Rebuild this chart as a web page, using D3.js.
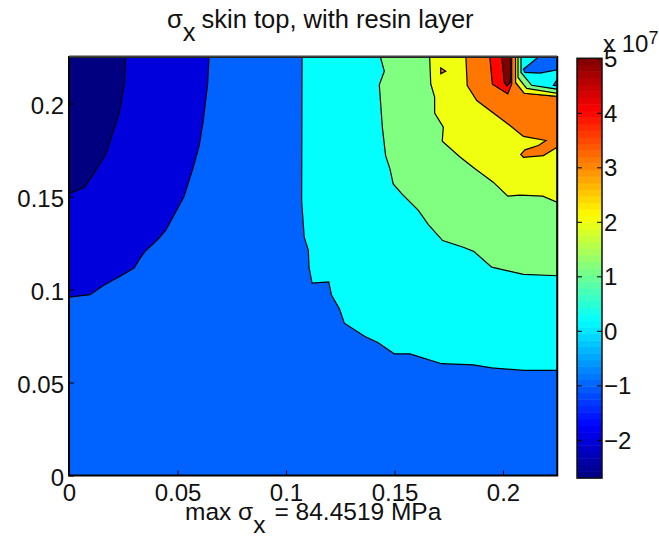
<!DOCTYPE html>
<html>
<head>
<meta charset="utf-8">
<script src="https://d3js.org/d3.v7.min.js"></script>
<style>
  body { margin: 0; background: #fff; }
  text { font-family: "Liberation Sans", Arial, sans-serif; fill: #111; }
</style>
</head>
<body>
<div id="chart"></div>
<script>
// =========================
// DATA (x, y in metres, levels in 1e7 Pa)
// =========================
const xTicks = [0, 0.05, 0.1, 0.15, 0.2];
const yTicks = [0, 0.05, 0.1, 0.15, 0.2];
const cbarTicks = [-2, -1, 0, 1, 2, 3, 4, 5];
const xLabels = ["0", "0.05", "0.1", "0.15", "0.2"];
const yLabels = ["0", "0.05", "0.1", "0.15", "0.2"];
const cbarLabels = ["\u22122", "\u22121", "0", "1", "2", "3", "4", "5"];

const levelBase = -1;
const levelNavy = -2.7, levelBlue = -2, levelCyan = 0.2, levelGreen = 1.15;
const levelYellow = 2, levelOrange = 3.15, levelRed = 4, levelDark = 5;

const navyEdge = [[0.0261,0.225],[0.0255,0.2106],[0.0232,0.1953],[0.0207,0.1864],[0.0169,0.1726],
  [0.0112,0.1622],[0.0071,0.1550],[0,0.1515],[0,0.225]];
const blueEdge = [[0.0645,0.225],[0.0639,0.2108],[0.0619,0.1909],[0.0600,0.1774],[0.0573,0.1658],
  [0.0530,0.1500],[0.0447,0.1321],[0.0412,0.1273],[0.0350,0.1204],[0.0327,0.1167],[0.0300,0.1115],
  [0.0227,0.1066],[0.0158,0.1022],[0.0097,0.0972],[0,0.0959],[0,0.225]];
const cyanEdge = [[0.1074,0.225],[0.1072,0.1478],[0.1084,0.1281],[0.1103,0.1210],[0.1106,0.1120],
  [0.1120,0.1034],[0.1197,0.1041],[0.1209,0.0972],[0.1246,0.0896],[0.1269,0.0819],[0.1364,0.0747],
  [0.1423,0.0715],[0.1499,0.0654],[0.1571,0.0654],[0.1717,0.0601],[0.1863,0.0595],[0.1948,0.0579],
  [0.2094,0.0565],[0.225,0.0565],[0.225,0.225]];
const greenEdge = [[0.1435,0.225],[0.1453,0.2174],[0.1430,0.2100],[0.1444,0.1873],[0.1459,0.1720],
  [0.1479,0.1649],[0.1494,0.1568],[0.1533,0.1515],[0.1610,0.1425],[0.1656,0.1349],[0.1722,0.1263],
  [0.1817,0.1227],[0.1866,0.1204],[0.1948,0.1120],[0.2094,0.1081],[0.225,0.1074],[0.225,0.225]];
const yellowEdge = [[0.1662,0.225],[0.1667,0.2106],[0.1685,0.2034],[0.1685,0.1948],[0.1725,0.1873],
  [0.1720,0.1797],[0.1802,0.1712],[0.1871,0.1649],[0.1955,0.1577],[0.2022,0.1502],[0.2078,0.1507],
  [0.2183,0.1502],[0.225,0.1469],[0.225,0.225]];
const orangeEdge = [[0.1829,0.225],[0.1835,0.2097],[0.1879,0.2016],[0.2032,0.1882],[0.2094,0.1823],
  [0.2198,0.1801],[0.2163,0.1774],[0.2101,0.1751],[0.2082,0.1726],[0.2094,0.1711],[0.2186,0.1720],
  [0.225,0.1765],[0.225,0.2038],[0.2098,0.2055],[0.2058,0.2113],[0.2058,0.225]];
const orangeSpot = [[0.1713,0.2192],[0.1713,0.2160],[0.1736,0.2174]];
const redEdge = [[0.1939,0.225],[0.1951,0.2104],[0.2022,0.2052],[0.2040,0.2104],[0.2040,0.225]];
const darkEdge = [[0.1994,0.225],[0.2006,0.2113],[0.2018,0.2095],[0.2034,0.2113],[0.2037,0.225]];
const innerYellow = [[0.2058,0.225],[0.2058,0.2113],[0.2098,0.2055],[0.225,0.2038],[0.225,0.225]];
const innerGreen = [[0.2069,0.225],[0.2069,0.2140],[0.2109,0.2081],[0.225,0.2055],[0.225,0.225]];
const innerCyan = [[0.2083,0.225],[0.2083,0.2167],[0.2132,0.2098],[0.225,0.2077],[0.225,0.225]];
const innerBlue = [[0.2163,0.225],[0.2094,0.2184],[0.2101,0.2167],[0.2171,0.2163],[0.225,0.2181],[0.225,0.225]];
const innerBlueTip = [[0.225,0.2130],[0.2232,0.2098],[0.225,0.2095]];

// painted back to front
const regions = [
  { pts: blueEdge, level: levelBlue },
  { pts: navyEdge, level: levelNavy },
  { pts: cyanEdge, level: levelCyan },
  { pts: greenEdge, level: levelGreen },
  { pts: yellowEdge, level: levelYellow },
  { pts: orangeEdge, level: levelOrange },
  { pts: orangeSpot, level: levelOrange },
  { pts: redEdge, level: levelRed },
  { pts: darkEdge, level: levelDark },
  { pts: innerYellow, level: levelYellow },
  { pts: innerGreen, level: levelGreen },
  { pts: innerCyan, level: levelCyan },
  { pts: innerBlue, level: levelBase },
  { pts: innerBlueTip, level: levelBase }
];

// =========================
// SCALES
// =========================
const svg = d3.select("#chart").append("svg")
  .attr("width", 659).attr("height", 536).style("display", "block");

const x = d3.scaleLinear().domain([0, 0.225]).range([69, 557.25]);
const y = d3.scaleLinear().domain([0, 0.225]).range([475.5, 57]);
const cbarMin = -2.7, cbarMax = 5;
const cy = d3.scaleLinear().domain([cbarMin, cbarMax]).range([478, 58.3]);

// matlab jet
function jet(t) {
  const c = v => Math.round(255 * Math.max(0, Math.min(1, v)));
  const r = Math.min(4 * t - 1.5, -4 * t + 4.5);
  const g = Math.min(4 * t - 0.5, -4 * t + 3.5);
  const b = Math.min(4 * t + 0.5, -4 * t + 2.5);
  return `rgb(${c(r)},${c(g)},${c(b)})`;
}
const levelColor = v => jet((v - cbarMin) / (cbarMax - cbarMin));

// =========================
// CONTOUR FILL
// =========================
svg.append("clipPath").attr("id", "plot").append("rect")
  .attr("x", x(0)).attr("y", y(0.225))
  .attr("width", x(0.225) - x(0)).attr("height", y(0) - y(0.225));

const line = d3.line().x(d => x(d[0])).y(d => y(d[1]));
const plot = svg.append("g").attr("clip-path", "url(#plot)");

plot.append("rect")
  .attr("x", x(0)).attr("y", y(0.225))
  .attr("width", x(0.225) - x(0)).attr("height", y(0) - y(0.225))
  .attr("fill", levelColor(levelBase));

plot.selectAll("path").data(regions).enter().append("path")
  .attr("d", d => line(d.pts) + "Z")
  .attr("fill", d => levelColor(d.level))
  .attr("stroke", "#000").attr("stroke-width", 1.2);

// =========================
// AXES
// =========================
function styleAxis(g, size) {
  g.select(".domain").remove();
  g.selectAll("line").attr("stroke", "#000").attr("stroke-width", 1);
  g.selectAll("text").attr("font-size", size).attr("fill", "#111");
}

const gx = svg.append("g").attr("transform", `translate(0,${y(0)})`)
  .call(d3.axisBottom(x).tickValues(xTicks).tickSize(-5).tickFormat((d, i) => xLabels[i]));
styleAxis(gx, 24);
gx.selectAll("text").attr("y", 25).attr("dy", 0);

const gy = svg.append("g").attr("transform", `translate(${x(0)},0)`)
  .call(d3.axisLeft(y).tickValues(yTicks).tickSize(-5).tickFormat((d, i) => yLabels[i]));
styleAxis(gy, 24);
gy.selectAll("text").attr("x", -5).attr("dy", "0.42em");

svg.append("rect")
  .attr("x", x(0)).attr("y", y(0.225))
  .attr("width", x(0.225) - x(0)).attr("height", y(0) - y(0.225))
  .attr("fill", "none").attr("stroke", "#000").attr("stroke-width", 2);
svg.append("line")
  .attr("x1", x(0)).attr("x2", x(0.225)).attr("y1", y(0.225) - 0.5).attr("y2", y(0.225) - 0.5)
  .attr("stroke", "#444").attr("stroke-width", 2);

// =========================
// COLORBAR
// =========================
const cbarX0 = 577, cbarX1 = 602;
const cells = d3.range(64);
const cellH = (cbarMax - cbarMin) / 64;
svg.selectAll("rect.cell").data(cells).enter().append("rect")
  .attr("class", "cell")
  .attr("x", cbarX0).attr("width", cbarX1 - cbarX0)
  .attr("y", i => cy(cbarMin + (i + 1) * cellH))
  .attr("height", i => cy(cbarMin + i * cellH) - cy(cbarMin + (i + 1) * cellH) + 0.5)
  .attr("fill", i => jet((i + 0.5) / 64));

const gc = svg.append("g").attr("transform", `translate(${cbarX1},0)`)
  .call(d3.axisRight(cy).tickValues(cbarTicks).tickSize(-5).tickFormat((d, i) => cbarLabels[i]));
styleAxis(gc, 24);
gc.selectAll("text").attr("x", 2).attr("dy", "0.36em");
svg.append("g").attr("transform", `translate(${cbarX0},0)`)
  .call(d3.axisLeft(cy).tickValues(cbarTicks).tickSize(-5).tickFormat(""))
  .call(g => styleAxis(g, 24));

svg.append("rect")
  .attr("x", cbarX0).attr("y", cy(cbarMax))
  .attr("width", cbarX1 - cbarX0).attr("height", cy(cbarMin) - cy(cbarMax))
  .attr("fill", "none").attr("stroke", "#111").attr("stroke-width", 1.5);

const expo = svg.append("text").attr("x", 603).attr("y", 52).attr("font-size", 24);
expo.append("tspan").text("x 10");
expo.append("tspan").attr("dy", -8).attr("font-size", 18).text("7");

// =========================
// TITLE + NOTE
// =========================
function sigmaText(px, py, size, gap, before, after) {
  const t = svg.append("text").attr("x", px).attr("y", py).attr("font-size", size);
  t.append("tspan").text(before + "\u03c3");
  t.append("tspan").attr("dy", 13).text("x");
  t.append("tspan").attr("dy", -13).attr("dx", gap).text(after);
}
sigmaText(167, 28, 25.5, 6, "", "skin top, with resin layer");
sigmaText(185, 520, 24.5, 9, "max ", "= 84.4519 MPa");
</script>
</body>
</html>
